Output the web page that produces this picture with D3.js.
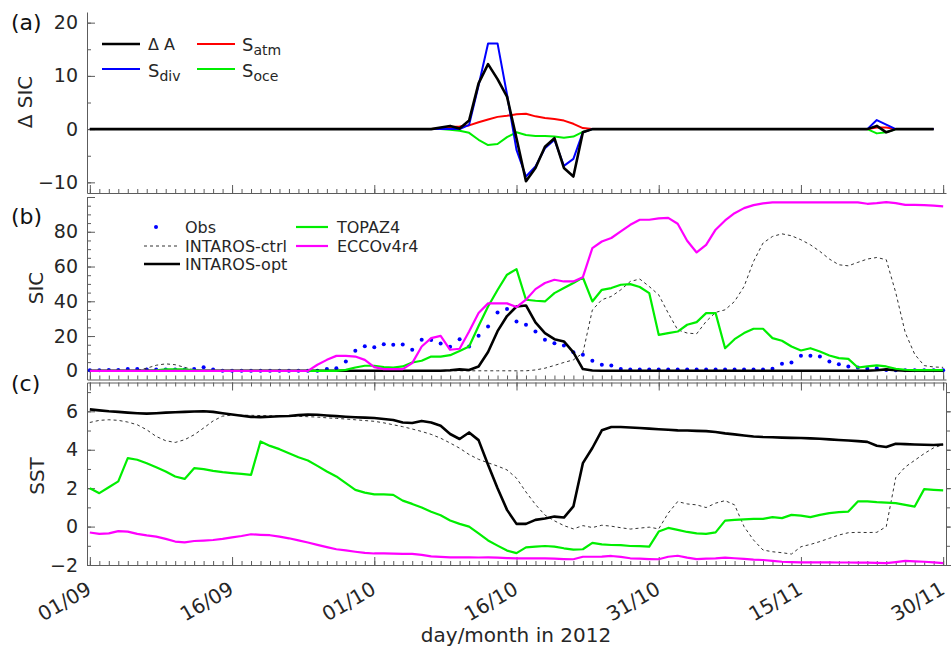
<!DOCTYPE html>
<html>
<head>
<meta charset="utf-8">
<script src="https://cdn.jsdelivr.net/npm/d3@7"></script>
<style>
  body { margin: 0; background: #fff; }
  svg { display: block; font-family: "DejaVu Sans", sans-serif; }
</style>
</head>
<body>
<svg id="chart" width="951" height="651"></svg>
<script>
// Daily series, 01/09/2012 (day 0) to 30/11/2012 (day 90)

// x-axis tick labels and the day index each one sits on
const tickDays   = [0, 15, 30, 45, 60, 75, 90];
const tickLabels = ["01/09", "16/09", "01/10", "16/10", "31/10", "15/11", "30/11"];

// (a) sea-ice concentration budget terms, days 0-89
const dA = [
  0,0,0,0,0,0,0,0,0,0,
  0,0,0,0,0,0,0,0,0,0,
  0,0,0,0,0,0,0,0,0,0,
  0,0,0,0,0,0,0,0.3,0.6,0.1,
  1.6,8.6,12.2,9.4,6.1,-1.7,-9.8,-7.3,-3.3,-1.7,
  -7.3,-8.9,-0.6,0,0,0,0,0,0,0,
  0,0,0,0,0,0,0,0,0,0,
  0,0,0,0,0,0,0,0,0,0,
  0,0,0,0.6,-0.6,0,0,0,0,0
];
const sAtm = [
  0,0,0,0,0,0,0,0,0,0,
  0,0,0,0,0,0,0,0,0,0,
  0,0,0,0,0,0,0,0,0,0,
  0,0,0,0,0,0,0,0.1,0.4,0.5,
  0.7,1.3,1.8,2.3,2.5,2.8,2.9,2.4,2.1,1.9,
  1.6,1.0,0.2,0,0,0,0,0,0,0,
  0,0,0,0,0,0,0,0,0,0,
  0,0,0,0,0,0,0,0,0,0,
  0,0,0,0.3,0.3,0,0,0,0,0
];
const sDiv = [
  0,0,0,0,0,0,0,0,0,0,
  0,0,0,0,0,0,0,0,0,0,
  0,0,0,0,0,0,0,0,0,0,
  0,0,0,0,0,0,0,0,0,0,
  0.8,8.2,16.1,16.1,6.5,-3.9,-8.9,-7.0,-3.6,-2.0,
  -6.9,-5.6,-0.6,0,0,0,0,0,0,0,
  0,0,0,0,0,0,0,0,0,0,
  0,0,0,0,0,0,0,0,0,0,
  0,0,0,1.7,0.85,0,0,0,0,0
];
const sOce = [
  0,0,0,0,0,0,0,0,0,0,
  0,0,0,0,0,0,0,0,0,0,
  0,0,0,0,0,0,0,0,0,0,
  0,0,0,0,0,0,0,0,-0.1,-0.3,
  -0.7,-2.0,-3.0,-2.8,-1.5,-0.6,-1.1,-1.3,-1.3,-1.4,
  -1.6,-1.4,-0.5,0,0,0,0,0,0,0,
  0,0,0,0,0,0,0,0,0,0,
  0,0,0,0,0,0,0,0,0,0,
  0,0,0,-0.8,-0.6,0,0,0,0,0
];

// (b) sea-ice concentration (%), days 0-90
const obsSIC = [
  0.3,0.3,0.5,0.5,1.0,1.0,0.8,0.8,0.8,0.8,
  0.8,1.0,2.0,0.8,0,0,0,0,0,0,
  0,0,0,0,0,1.0,1.5,5.4,11.5,14.2,
  13.6,15.3,15.0,15.2,12.1,17.8,17.7,15.7,13.9,18.2,
  14.0,20.1,25.5,33.6,35.5,28.4,26.5,22.6,17.8,15.9,
  14.6,10.7,9.2,5.8,3.5,3.1,1.0,0.7,0.7,0.7,
  0.7,0.7,0.7,0.7,0.7,0.7,0.7,0.7,0.7,0.7,
  0.7,0.7,1.2,4.0,4.8,8.6,8.6,8.2,5.4,3.8,
  2.5,1.9,1.2,1.5,0.5,0.3,0.3,0.3,0.3,0.3,
  0.3
];
const ctrlSIC = [
  0,0,0,0,0,0.3,1.5,3.2,4.0,3.5,
  2.0,0.5,0,0,0,0,0,0,0,0,
  0,0,0,0,0,0,0,0,0,0,
  0,0,0,0,0,0,0,0,0,0,
  0,0,0,0,0,0,0,0.5,1.5,3.1,
  4.8,6.3,10.2,35.0,40.9,42.8,46.6,51.4,52.8,48.5,
  43.7,33.2,23.6,21.7,21.3,28.4,33.6,35.1,39.9,48.5,
  62.9,73.5,77.3,78.8,77.7,75.4,72.5,68.7,64.3,61.0,
  60.4,62.4,64.3,65.2,63.9,45.0,22.0,9.5,3.0,2.2,
  2.0
];
const optSIC = [
  0,0,0,0,0,0,0,0,0,0,
  0,0,0,0,0,0,0,0,0,0,
  0,0,0,0,0,0,0,0,0,0,
  0,0,0,0,0,0,0,0,0.3,0.8,
  0.5,2.5,10.8,22.8,31.5,37.0,37.6,27.8,21.7,18.2,
  16.9,10.6,1.0,0.2,0,0,0,0,0,0,
  0,0,0,0,0,0,0,0,0,0,
  0,0,0,0,0,0,0,0,0,0,
  0,0,0,0.3,0.8,0.3,0,0,0,0,
  0
];
const topazSIC = [
  0,0,0,0,0,0,0,0.3,0.8,0.9,
  0.8,0.3,0,0,0,0,0,0,0,0,
  0,0,0,0,0,0,0,0.5,1.9,2.9,
  2.9,2.1,1.9,2.5,4.8,5.8,8.2,8.2,9.0,11.4,
  14.0,25.8,37.0,46.5,55.3,58.5,40.9,40.3,39.9,44.7,
  47.6,50.5,53.7,39.9,46.6,47.6,49.5,49.9,48.2,44.7,
  20.7,21.7,22.6,26.5,28.0,33.2,33.2,13.0,18.2,21.7,
  24.2,24.2,18.8,17.3,14.0,11.7,13.0,11.1,8.8,7.3,
  6.9,1.9,2.5,3.1,2.5,1.2,0.6,0.4,0.4,0.4,
  0.4
];
const eccoSIC = [
  0,0,0,0,0,0,0,0,0,0,
  0,0,0,0,0,0,0,0,0,0,
  0,0,0,0,3.5,6.3,8.6,8.6,8.2,6.3,
  2.1,1.0,1.0,1.0,4.4,14.0,18.8,20.1,12.1,12.7,
  22.6,33.2,38.8,38.8,38.8,36.7,40.9,47.0,50.5,52.4,
  51.4,51.4,53.9,70.6,74.4,76.4,80.2,84.0,86.9,86.9,
  87.7,88.0,84.6,74.8,68.1,72.5,81.2,86.5,90.7,93.6,
  95.3,96.3,96.9,96.9,96.9,96.9,96.9,96.9,96.9,96.9,
  96.9,96.9,96.1,96.5,97.1,96.5,95.5,95.5,95.3,95.0,
  94.6
];

// (c) sea-surface temperature (deg C), days 0-90
const ctrlSST = [
  5.42,5.53,5.56,5.53,5.44,5.30,5.04,4.69,4.47,4.38,
  4.52,4.78,5.13,5.50,5.75,5.80,5.80,5.79,5.78,5.77,
  5.76,5.75,5.74,5.72,5.70,5.66,5.63,5.60,5.56,5.52,
  5.48,5.40,5.30,5.20,5.08,4.95,4.80,4.60,4.35,4.08,
  3.75,3.50,3.32,3.15,2.95,2.52,1.80,1.15,0.60,0.30,
  0.05,-0.12,0.05,-0.05,0.07,0.02,-0.06,-0.13,-0.08,-0.03,
  -0.12,0.70,1.30,1.18,1.13,0.99,1.22,1.35,1.13,0.00,
  -0.70,-1.22,-1.31,-1.36,-1.43,-1.05,-0.93,-0.78,-0.61,-0.44,
  -0.32,-0.30,-0.31,-0.30,0.00,2.55,3.10,3.45,3.80,4.10,
  4.26
];
const optSST = [
  6.10,6.05,6.00,5.97,5.93,5.90,5.88,5.90,5.93,5.95,
  5.97,5.99,6.00,5.97,5.90,5.83,5.77,5.71,5.70,5.72,
  5.74,5.76,5.80,5.83,5.82,5.78,5.75,5.72,5.69,5.67,
  5.65,5.60,5.55,5.42,5.39,5.50,5.42,5.25,4.82,4.56,
  4.90,4.50,3.22,2.00,0.87,0.14,0.14,0.35,0.42,0.52,
  0.47,1.05,3.30,4.09,5.01,5.18,5.18,5.16,5.13,5.10,
  5.07,5.04,5.01,5.00,4.98,4.97,4.92,4.85,4.80,4.74,
  4.69,4.66,4.65,4.63,4.62,4.61,4.59,4.57,4.54,4.51,
  4.48,4.45,4.41,4.21,4.14,4.31,4.29,4.27,4.26,4.25,
  4.27
];
const topazSST = [
  2.00,1.74,2.05,2.35,3.56,3.48,3.30,3.09,2.87,2.61,
  2.48,3.04,2.99,2.90,2.83,2.78,2.74,2.69,4.43,4.20,
  4.03,3.82,3.61,3.44,3.16,2.87,2.61,2.26,1.91,1.77,
  1.68,1.68,1.65,1.35,1.18,0.99,0.77,0.59,0.32,0.14,
  0.00,-0.35,-0.72,-0.99,-1.25,-1.38,-1.08,-1.04,-1.01,-1.04,
  -1.13,-1.20,-1.18,-0.85,-0.93,-0.96,-0.97,-1.01,-1.02,-1.04,
  -0.26,-0.07,-0.17,-0.28,-0.35,-0.38,-0.30,0.31,0.35,0.38,
  0.40,0.40,0.49,0.44,0.61,0.57,0.49,0.61,0.70,0.75,
  0.78,1.31,1.31,1.27,1.25,1.22,1.13,1.04,1.95,1.91,
  1.88
];
const eccoSST = [
  -0.31,-0.38,-0.35,-0.24,-0.26,-0.38,-0.46,-0.52,-0.64,-0.78,
  -0.82,-0.75,-0.73,-0.70,-0.64,-0.56,-0.49,-0.40,-0.43,-0.45,
  -0.52,-0.61,-0.72,-0.83,-0.95,-1.07,-1.18,-1.24,-1.31,-1.37,
  -1.40,-1.40,-1.41,-1.42,-1.42,-1.47,-1.55,-1.58,-1.60,-1.60,
  -1.60,-1.61,-1.60,-1.62,-1.64,-1.65,-1.65,-1.65,-1.65,-1.67,
  -1.69,-1.70,-1.57,-1.57,-1.56,-1.53,-1.58,-1.65,-1.67,-1.69,
  -1.70,-1.57,-1.52,-1.62,-1.69,-1.67,-1.66,-1.62,-1.65,-1.68,
  -1.72,-1.74,-1.79,-1.83,-1.85,-1.86,-1.86,-1.86,-1.86,-1.87,
  -1.87,-1.88,-1.88,-1.89,-1.90,-1.85,-1.79,-1.81,-1.83,-1.86,
  -1.90
];

// ---------------------------------------------------------------------------
const svg = d3.select("#chart");
const AXIS = "#5c5c5c", TXT = "#262626";
const C = { black: "#000000", red: "#ff0000", blue: "#0000ff", green: "#00ee00", pink: "#ff00ff", dash: "#333333" };

const x  = d3.scaleLinear().domain([-0.3, 90.3]).range([87, 946]);
const yA = d3.scaleLinear().domain([-12, 22]).range([193, 12]);
const yB = d3.scaleLinear().domain([-5, 100]).range([379.5, 197]);
const yC = d3.scaleLinear().domain([-2, 7.5]).range([565, 382.5]);

const allDays = d3.range(0, 91);

function paint(g) {
  g.selectAll("path.domain").attr("stroke", AXIS).attr("stroke-width", 1);
  g.selectAll(".tick line").attr("stroke", AXIS).attr("stroke-width", 1);
  g.selectAll("text").attr("fill", TXT).attr("font-size", 19).attr("font-family", "DejaVu Sans, sans-serif");
}

// horizontal axis line with inward day ticks; dir = -1 points up, +1 points down
function xAxisAt(yPos, dir) {
  const g = svg.append("g").attr("transform", `translate(0,${yPos})`);
  g.append("g").call(d3.axisBottom(x).tickValues(allDays).tickSize(dir * 4).tickSizeOuter(0).tickFormat(""))
    .call(s => s.select("path.domain").remove()).call(paint);
  g.append("g").call(d3.axisBottom(x).tickValues(tickDays).tickSize(dir * 8).tickSizeOuter(0).tickFormat("")).call(paint);
}

// vertical axis with inward ticks; side = "left" or "right"
function yAxisAt(scale, xPos, side, major, minor, labelled) {
  const g = svg.append("g").attr("transform", `translate(${xPos},0)`);
  const mk = side === "left" ? d3.axisLeft : d3.axisRight;
  const s = side === "left" ? -1 : 1;
  g.append("g").call(mk(scale).tickValues(minor).tickSize(s * 4).tickSizeOuter(0).tickFormat(""))
    .call(q => q.select("path.domain").remove()).call(paint);
  g.append("g").call(mk(scale).tickValues(major).tickSize(s * 8).tickSizeOuter(0).tickPadding(9)
      .tickFormat(d => labelled.includes(d) ? d3.format("d")(d).replace("-", "\u2212") : ""))
    .call(paint);
}

// ---- panel (a)
yAxisAt(yA, 87, "left", [-10, 0, 10, 20], d3.range(-10, 21, 5), [-10, 0, 10, 20]);
xAxisAt(193, -1);

// ---- panel (b)
yAxisAt(yB, 87, "left", [0, 20, 40, 60, 80, 100], d3.range(0, 101, 5), [0, 20, 40, 60, 80]);
xAxisAt(379.5, -1);

// ---- panel (c), full box
yAxisAt(yC, 87, "left", [-2, 0, 2, 4, 6], d3.range(-2, 8, 1), [-2, 0, 2, 4, 6]);
yAxisAt(yC, 946, "right", [-2, 0, 2, 4, 6], d3.range(-2, 8, 1), []);
xAxisAt(565, -1);
xAxisAt(382.5, 1);

// date labels under panel (c)
svg.append("g").selectAll("text").data(tickDays).join("text")
  .attr("transform", d => `translate(${x(d) + 3},593) rotate(-30)`)
  .attr("text-anchor", "end")
  .attr("font-size", 20).attr("fill", TXT)
  .text((d, i) => tickLabels[i]);

svg.append("text").attr("x", 516).attr("y", 642).attr("text-anchor", "middle")
  .attr("font-size", 20).attr("fill", TXT).text("day/month in 2012");

// y titles
[["\u0394 SIC", 25, 102], ["SIC", 36, 288], ["SST", 37, 476]].forEach(([t, cx, cy]) => {
  svg.append("text").attr("transform", `translate(${cx},${cy}) rotate(-90)`)
    .attr("text-anchor", "middle").attr("dominant-baseline", "central")
    .attr("font-size", 20).attr("fill", TXT).text(t);
});

// panel letters
[["(a)", 30], ["(b)", 224], ["(c)", 391]].forEach(([t, by]) => {
  svg.append("text").attr("x", 11).attr("y", by).attr("font-size", 22).attr("fill", "#111").text(t);
});

// ---- data lines
function drawLine(data, scale, color, width, dash) {
  const line = d3.line().x((d, i) => x(i)).y(d => scale(d));
  svg.append("path").datum(data).attr("d", line)
    .attr("fill", "none").attr("stroke", color).attr("stroke-width", width)
    .attr("stroke-linejoin", "round")
    .attr("stroke-dasharray", dash || null);
}

// (a)
drawLine(sOce, yA, C.green, 2);
drawLine(sAtm, yA, C.red, 2);
drawLine(sDiv, yA, C.blue, 2);
drawLine(dA, yA, C.black, 2.6);

// (b)
svg.append("g").selectAll("circle").data(obsSIC).join("circle")
  .attr("cx", (d, i) => x(i)).attr("cy", d => yB(d)).attr("r", 2).attr("fill", C.blue);
drawLine(ctrlSIC, yB, C.dash, 1, "3,3");
drawLine(optSIC, yB, C.black, 2.6);
drawLine(topazSIC, yB, C.green, 2.2);
drawLine(eccoSIC, yB, C.pink, 2.2);

// (c)
drawLine(ctrlSST, yC, C.dash, 1, "3,3");
drawLine(optSST, yC, C.black, 2.6);
drawLine(topazSST, yC, C.green, 2.2);
drawLine(eccoSST, yC, C.pink, 2.2);

// ---- legend (a)
function legLine(x1, x2, y, color, w, dash) {
  svg.append("line").attr("x1", x1).attr("x2", x2).attr("y1", y).attr("y2", y)
    .attr("stroke", color).attr("stroke-width", w).attr("stroke-dasharray", dash || null);
}
legLine(102, 140, 44, C.black, 2.6);
legLine(197, 235, 44, C.red, 2);
legLine(102, 140, 69, C.blue, 2);
legLine(197, 235, 69, C.green, 2);

svg.append("text").attr("x", 148).attr("y", 50).attr("font-size", 16).attr("fill", TXT).text("\u0394 A");
function subLabel(x0, y0, main, sub) {
  const t = svg.append("text").attr("x", x0).attr("y", y0).attr("font-size", 18).attr("fill", TXT);
  t.append("tspan").text(main);
  t.append("tspan").attr("dy", 4).attr("font-size", 14).text(sub);
}
subLabel(242, 51, "S", "atm");
subLabel(148, 77, "S", "div");
subLabel(242, 77, "S", "oce");

// ---- legend (b)
svg.append("circle").attr("cx", 156).attr("cy", 227).attr("r", 2).attr("fill", C.blue);
legLine(144, 180, 246, C.dash, 1, "3,3");
legLine(144, 180, 264, C.black, 2.6);
legLine(296, 328, 227, C.green, 2.2);
legLine(296, 328, 246, C.pink, 2.2);
[["Obs", 185, 233], ["INTAROS-ctrl", 185, 252], ["INTAROS-opt", 185, 270],
 ["TOPAZ4", 337, 233], ["ECCOv4r4", 337, 252]].forEach(([t, lx, ly]) => {
  svg.append("text").attr("x", lx).attr("y", ly).attr("font-size", 16).attr("fill", TXT).text(t);
});
</script>
</body>
</html>
